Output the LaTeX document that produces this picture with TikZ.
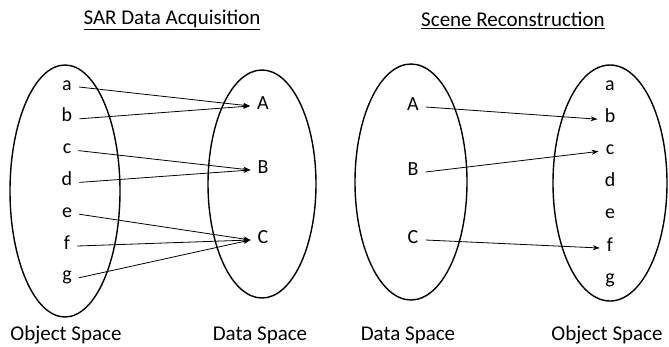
\documentclass[tikz,border=0pt]{standalone}
\usepackage{fontspec}
\setmainfont{Carlito}
\usepackage{tikz}
\usetikzlibrary{arrows.meta}
\tikzstyle{canvas} = [x = 1pt, y = -1pt]
\tikzstyle{spaceOutline} = [color=black, line width = 1.4pt]
\tikzstyle{mapArrow} = [color=black, line width = .8pt, -{Stealth[length = 7pt, width = 5pt]}]
\tikzstyle{pointLabel} = [font=\fontsize{20}{24}\selectfont, inner xsep = 7pt, inner ysep = 1pt, text height = 1.6ex, text depth = .3ex]
\tikzstyle{spaceName} = [font=\fontsize{21}{25}\selectfont]
\tikzstyle{panelTitle} = [font=\fontsize{21}{25}\selectfont]
\newcommand{\spaceEllipse}[4]{\draw [spaceOutline] (#1, #2) ellipse (#3pt and #4pt);}
% seven object points a..g, stacked from #3 with spacing #4
\newcommand{\objectPoints}[4]{
  \foreach \letter [count = \i] in {a,...,g} {
    \node [pointLabel] (#1\letter) at ({#2}, {#3 + (\i - 1) * #4}) {\letter};
  }
}
\newcommand{\dataPoints}[5]{
  \node [pointLabel] (#1A) at (#2, #3) {A};
  \node [pointLabel] (#1B) at (#2, #4) {B};
  \node [pointLabel] (#1C) at (#2, #5) {C};
}
\newcommand{\mapTo}[2]{\draw [mapArrow] (#1.east) -- (#2.west);}

\begin{document}
\begin{tikzpicture}[canvas]
  \useasboundingbox (0, 0) rectangle (669, 346);
  % SAR data acquisition
  \node [panelTitle] (acqTitle) at (172, 20) {\underline{SAR Data Acquisition}};
  \spaceEllipse{65}{191}{55}{126}
  \spaceEllipse{262}{184}{54}{114}
  \objectPoints{acqObj}{67}{87}{31.8}
  \dataPoints{acqData}{263}{106}{170}{240}
  \mapTo{acqObja}{acqDataA}
  \mapTo{acqObjb}{acqDataA}
  \mapTo{acqObjc}{acqDataB}
  \mapTo{acqObjd}{acqDataB}
  \mapTo{acqObje}{acqDataC}
  \mapTo{acqObjf}{acqDataC}
  \mapTo{acqObjg}{acqDataC}
  \node [spaceName] (acqObjName) at (66, 335) {Object Space};
  \node [spaceName] (acqDataName) at (260, 335) {Data Space};
  % scene reconstruction
  \node [panelTitle] (recTitle) at (513, 20) {\underline{Scene Reconstruction}};
  \spaceEllipse{411}{182}{56}{118}
  \spaceEllipse{610}{183}{57}{118}
  \dataPoints{recData}{413}{107}{172}{240}
  \objectPoints{recObj}{610}{87}{32.2}
  \mapTo{recDataA}{recObjb}
  \mapTo{recDataB}{recObjc}
  \mapTo{recDataC}{recObjf}
  \node [spaceName] (recDataName) at (408, 335) {Data Space};
  \node [spaceName] (recObjName) at (607, 335) {Object Space};
\end{tikzpicture}
\end{document}
